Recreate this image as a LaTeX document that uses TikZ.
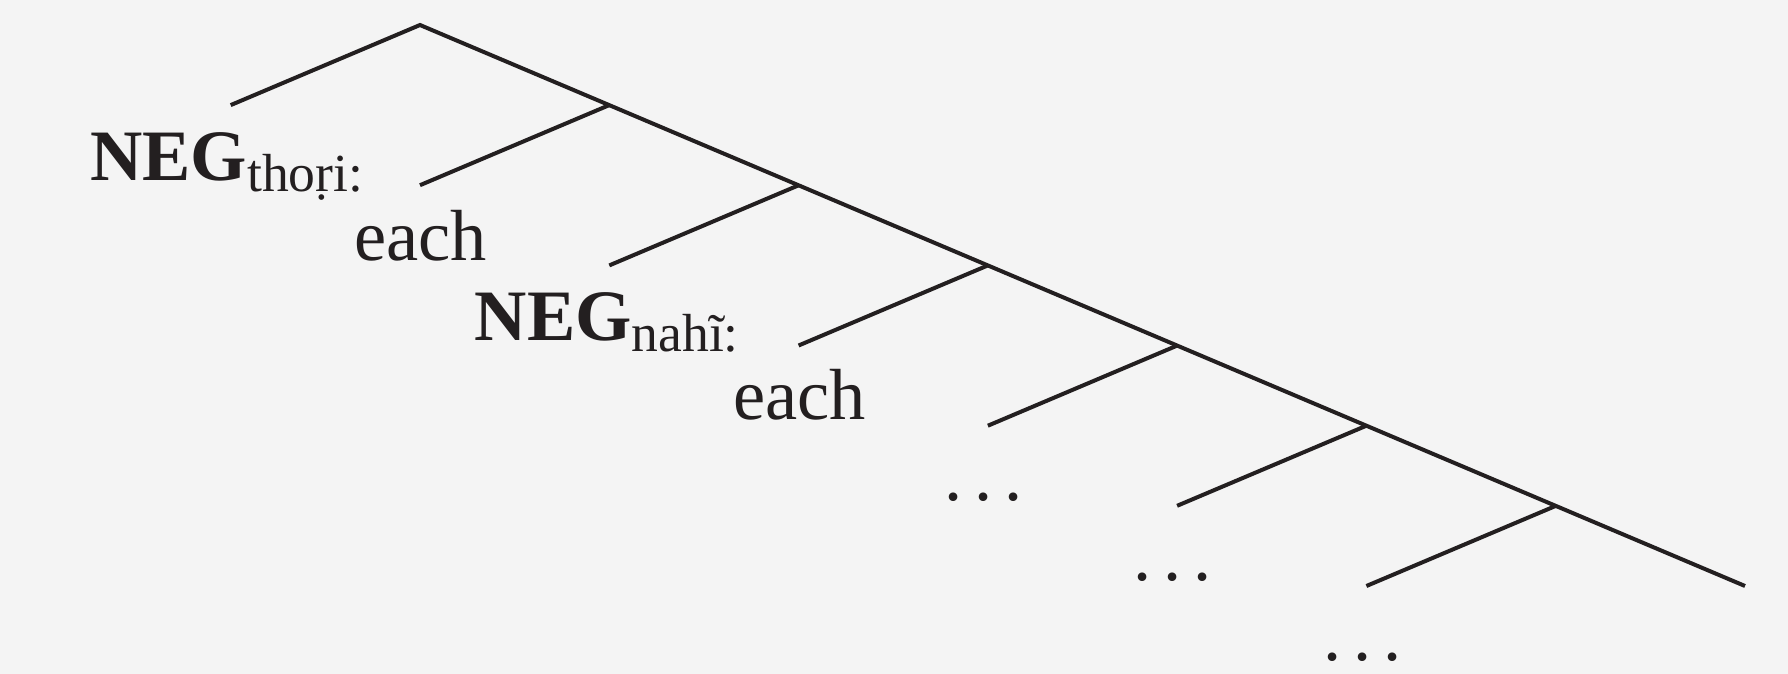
\documentclass[tikz,border=0pt]{standalone}
\usepackage{fontspec}
\setmainfont{Liberation Serif}
\definecolor{ink}{HTML}{231F20}
\definecolor{paper}{HTML}{F4F4F4}
\newcommand{\bigsz}{\fontsize{18.1}{20}\selectfont}
\newcommand{\subsz}{\fontsize{13.4}{15}\selectfont}
\newcommand{\dotsep}{\hspace{2.97pt}}
\begin{document}
\begin{tikzpicture}[x=0.25pt,y=-0.25pt,
  branch/.style={draw=ink,line width=1pt,line join=miter},
  lbl/.style={anchor=base west,inner sep=0pt,outer sep=0pt,text=ink,font=\bigsz}]
\fill[paper] (0,0) rectangle (1788,674);
\useasboundingbox (0,0) rectangle (1788,674);
% spine nodes
\coordinate (n0) at (420,25);
\coordinate (n1) at (609.3,105.1);
\coordinate (n2) at (798.6,185.3);
\coordinate (n3) at (987.9,265.4);
\coordinate (n4) at (1177.1,345.6);
\coordinate (n5) at (1366.4,425.7);
\coordinate (n6) at (1555.7,505.9);
\coordinate (n7) at (1745,586);
% left leaves
\coordinate (l0) at (230.7,105.1);
\coordinate (l1) at (420,185.2);
\coordinate (l2) at (609.3,265.4);
\coordinate (l3) at (798.6,345.5);
\coordinate (l4) at (987.9,425.7);
\coordinate (l5) at (1177.1,505.8);
\coordinate (l6) at (1366.4,586);
% branches
\draw[branch] (l0) -- (n0) -- (n7);
\draw[branch] (n1) -- (l1);
\draw[branch] (n2) -- (l2);
\draw[branch] (n3) -- (l3);
\draw[branch] (n4) -- (l4);
\draw[branch] (n5) -- (l5);
\draw[branch] (n6) -- (l6);
% labels
\node[lbl] (neg1) at (90.3,180) {\textbf{NEG}\raisebox{-2.92pt}{\subsz tho\d{r}i:}};
\node[lbl] (each1) at (354,260) {each};
\node[lbl] (neg2) at (474.8,340.7) {\textbf{NEG}\raisebox{-2.75pt}{\subsz nahĩ:}};
\node[lbl] (each2) at (733.2,419.3) {each};
\node[lbl] (dots1) at (944.2,500.4) {.\dotsep.\dotsep.};
\node[lbl] (dots2) at (1133.9,580.4) {.\dotsep.\dotsep.};
\node[lbl] (dots3) at (1323.2,660.8) {.\dotsep.\dotsep.};
\end{tikzpicture}
\end{document}
